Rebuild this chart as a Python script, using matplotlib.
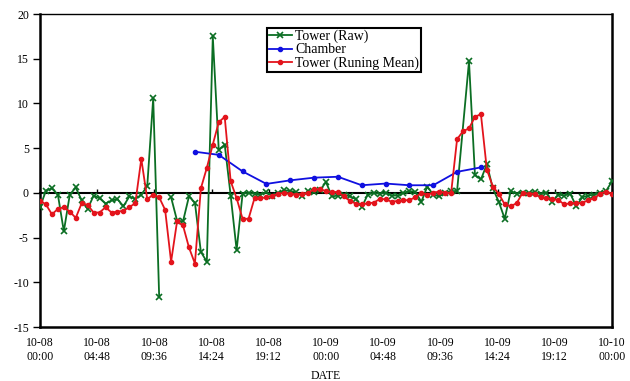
import numpy as np
import matplotlib
matplotlib.use("Agg")
import matplotlib.pyplot as plt
from datetime import datetime, timedelta

nan = np.nan

# Half-hourly readings, hours since 10-08 00:00
step_hours = 0.5
tower_raw = [
    -1.6, 0.25, 0.5, -0.2, -4.3, -0.2, 0.6, -0.85, -1.8, -0.3,
    -0.6, -1.2, -0.85, -0.7, -1.5, -0.4, -0.7, -0.2, 0.75, 10.6,
    -11.6, nan, -0.5, -3.1, -3.2, -0.4, -1.1, -6.6, -7.7, 17.5,
    4.8, 5.4, -0.3, -6.4, -0.1, 0.0, -0.1, -0.2, 0.1, -0.4,
    0.0, 0.3, 0.2, 0.1, -0.4, 0.2, 0.1, 0.3, 1.2, -0.4,
    -0.3, -0.2, -0.4, -0.7, -1.6, -0.2, 0.0, -0.1, 0.0, -0.3,
    -0.3, 0.0, 0.2, 0.1, -1.0, 0.7, -0.2, -0.4, 0.0, 0.2,
    0.2, nan, 14.7, 2.0, 1.5, 3.2, 0.5, -1.0, -2.9, 0.2,
    -0.1, 0.0, 0.0, 0.1, -0.1, 0.0, -1.0, -0.2, -0.3, -0.1,
    -1.5, -0.5, -0.3, -0.2, 0.0, 0.2, 1.3,
]
# missing raw readings that the line bridges (hours)
tower_raw_bridged = [35.5]

tower_mean = [
    -0.86, -1.3, -2.4, -1.8, -1.6, -2.1, -2.8, -1.15, -1.35, -2.2,
    -2.2, -1.6, -2.2, -2.1, -2.0, -1.6, -1.15, 3.8, -0.7, -0.2,
    -0.5, -1.9, -7.7, -3.2, -3.65, -6.1, -7.9, 0.5, 2.8, 5.4,
    7.9, 8.5, 1.3, -0.6, -2.9, -2.9, -0.6, -0.6, -0.5, -0.3,
    -0.1, 0.0, -0.1, -0.2, -0.1, 0.0, 0.4, 0.4, 0.2, 0.1,
    0.1, -0.4, -0.9, -1.2, -1.3, -1.15, -1.1, -0.7, -0.7, -1.0,
    -0.9, -0.85, -0.8, -0.5, 0.0, -0.2, 0.0, 0.15, 0.0, 0.0,
    6.0, 6.9, 7.2, 8.5, 8.8, 2.6, 0.7, -0.1, -1.3, -1.5,
    -1.15, 0.0, -0.1, -0.1, -0.5, -0.6, -0.7, -0.8, -1.3, -1.15,
    -1.15, -1.15, -0.8, -0.6, -0.1, 0.15, -0.1,
]

chamber_hours = [13, 15, 17, 19, 21, 23, 25, 27, 29, 31, 33, 35, 37]
chamber = [4.6, 4.25, 2.4, 1.0, 1.4, 1.7, 1.8, 0.85, 1.04, 0.85, 0.85, 2.35, 2.85]

tick_hours = [0, 4.8, 9.6, 14.4, 19.2, 24, 28.8, 33.6, 38.4, 43.2, 48]
y_ticks = [-15, -10, -5, 0, 5, 10, 15, 20]
start = datetime(2000, 10, 8, 0, 0)

legend_labels = ["Tower (Raw)", "Chamber", "Tower (Runing Mean)"]

plt.rcParams['font.family'] = ['Liberation Serif', 'DejaVu Serif']
FS = 8.5
LEG_FS = 10

green = '#0b6e23'
blue = '#1010e0'
red = '#e3141c'

fig = plt.figure(figsize=(6.3, 3.81), dpi=100)
ax = fig.add_axes([40/630, 1-327/381, 572/630, 313/381])

hours = np.arange(len(tower_raw)) * step_hours
raw = np.array(tower_raw, dtype=float)
keep = ~np.isin(hours, tower_raw_bridged)

ax.plot(hours[keep], raw[keep], color=green, lw=1.3, marker='x', ms=4,
        mew=1.2, zorder=4, label=legend_labels[0])
ax.plot(chamber_hours, chamber, color=blue, lw=1.3, marker='o', ms=3.0,
        zorder=5, label=legend_labels[1])
ax.plot(np.arange(len(tower_mean)) * step_hours, tower_mean, color=red, lw=1.3,
        marker='o', ms=3.0, zorder=6, label=legend_labels[2])

ax.set_xlim(0, 48)
ax.set_ylim(-15, 20)
ax.set_yticks(y_ticks)
ax.set_yticklabels([str(v) for v in y_ticks], fontsize=FS)
ax.tick_params(axis='y', direction='out', length=5, width=1, pad=3)

# x axis crosses at zero with small upward ticks
ax.spines['bottom'].set_position(('data', 0))
ax.spines['bottom'].set_linewidth(1.5)
ax.spines['bottom'].set_zorder(3)
ax.set_xticks(tick_hours)
ax.tick_params(axis='x', direction='in', length=3, width=1, labelbottom=False)

for s in ['left', 'right']:
    ax.spines[s].set_linewidth(1.8)
ax.spines['top'].set_linewidth(1.0)

sec = ax.secondary_xaxis('bottom')
sec.spines['bottom'].set_position(('axes', 0))
sec.spines['bottom'].set_linewidth(1.8)
sec.set_xticks(tick_hours)
labels = [(start + timedelta(hours=h)).strftime('%m-%d\n%H:%M') for h in tick_hours]
sec.set_xticklabels(labels, fontsize=FS, linespacing=1.25)
sec.tick_params(axis='x', length=0, pad=7)
sec.set_xlabel('DATE', fontsize=FS, labelpad=5)

leg = ax.legend(loc='upper left', bbox_to_anchor=((267-40)/572, (327-28)/313),
                fontsize=LEG_FS, frameon=True, fancybox=False, framealpha=1,
                edgecolor='black', handlelength=1.7, handletextpad=0.2,
                labelspacing=0.02, borderpad=0.12, borderaxespad=0, numpoints=1)
leg.get_frame().set_linewidth(1.5)
leg.set_zorder(10)

fig.savefig('out.png', dpi=100)
